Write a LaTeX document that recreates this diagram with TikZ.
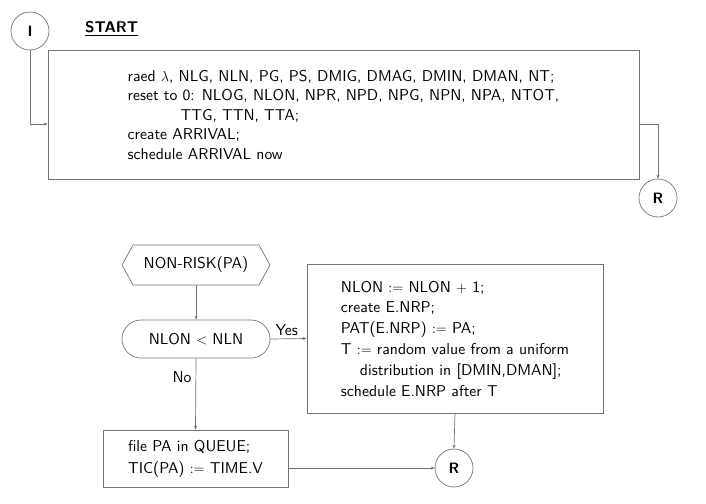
\documentclass[tikz,border=0pt]{standalone}
\usepackage{fontspec}
\setsansfont{lmsans10-regular.otf}[BoldFont=lmsans10-bold.otf]
\usetikzlibrary{arrows.meta,shapes.misc,shapes.symbols}
\begin{document}
\begin{tikzpicture}[x=1pt,y=-1pt,
  every node/.style={font=\sffamily\fontsize{15.7}{19.5}\selectfont, inner sep=0pt},
  line/.style={draw=black!55, line width=0.7pt},
  arr/.style={line, -{Stealth[length=4pt,width=3pt,fill=black!70]}},
  conn/.style={circle, line, minimum size=38pt, font=\sffamily\bfseries\fontsize{15}{18}\selectfont},
  boxn/.style={rectangle, line, align=left}]
\useasboundingbox (0,0) rectangle (706,503);
% top part
\node[conn] (I) at (30,31) {I};
\node[anchor=base west, font=\sffamily\bfseries\fontsize{15.5}{18}\selectfont] (start) at (85,33) {\underline{START}};
\node[boxn, minimum width=591pt, minimum height=129pt] (main) at (343.5,114.5) {%
raed $\lambda$, NLG, NLN, PG, PS, DMIG, DMAG, DMIN, DMAN, NT;\\
reset to 0: NLOG, NLON, NPR, NPD, NPG, NPN, NPA, NTOT,\\
\hspace*{53pt}TTG, TTN, TTA;\\
create ARRIVAL;\\
schedule ARRIVAL now};
\node[conn] (R1) at (658,198) {R};
\draw[arr] (I.south) |- ([yshift=-9.5pt]main.west);
\draw[arr] ([yshift=-9.5pt]main.east) -| (R1.north);
% bottom part
\node[signal, signal to=west and east, signal pointer angle=122, line, minimum width=148pt, minimum height=40pt] (nr) at (196,265) {NON-RISK(PA)};
\node[rounded rectangle, line, minimum width=148pt, minimum height=38pt] (cond) at (196,339) {NLON $<$ NLN};
\node[boxn, minimum width=296pt, minimum height=149pt, font=\sffamily\fontsize{15.7}{20.8}\selectfont] (rbox) at (455,338.5) {%
NLON $:=$ NLON $+$ 1;\\
create E.NRP;\\
PAT(E.NRP) $:=$ PA;\\
T $:=$ random value from a uniform\\
\hspace*{19pt}distribution in [DMIN,DMAN];\\
schedule E.NRP after T};
\node[boxn, minimum width=185pt, minimum height=57pt, font=\sffamily\fontsize{15.7}{22}\selectfont] (qbox) at (195.5,458.5) {%
file PA in QUEUE;\\
TIC(PA) $:=$ TIME.V};
\node[conn] (R2) at (454,468) {R};
\draw[arr] (nr.south) -- (cond.north);
\draw[arr] (cond.east) -- node[above=3pt, pos=0.45] (yes) {Yes} (rbox.west);
\draw[arr] (cond.south) -- (qbox.north);
\node (no) at (182,377) {No};
\draw[arr] (rbox.south) -- (R2.north);
\draw[arr] (qbox.east |- R2.west) -- (R2.west);
\end{tikzpicture}
\end{document}
